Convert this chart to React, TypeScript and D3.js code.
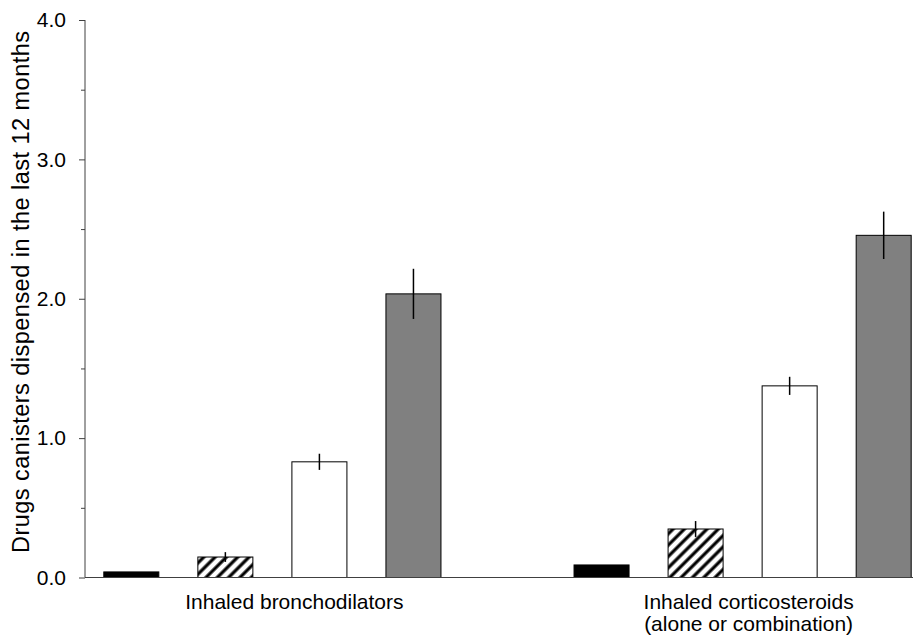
import React, { useEffect, useRef } from "react";
import * as d3 from "d3";

// categories on the x axis (second one is split on two lines)
const categories = [
  ["Inhaled bronchodilators"],
  ["Inhaled corticosteroids", "(alone or combination)"],
];
const series = ["black", "hatched", "white", "gray"];
// mean canisters per series, one value for each category
const meanValues = [
  [0.04, 0.147, 0.83, 2.035],
  [0.09, 0.348, 1.375, 2.455],
];
const errValues = [
  [0, 0.035, 0.058, 0.18],
  [0, 0.057, 0.065, 0.17],
];
const yTicks = [0, 1, 2, 3, 4];
const yMinorTicks = [0.5, 1.5, 2.5, 3.5];
const yTitle = "Drugs canisters dispensed in the last 12 months";

const W = 919;
const H = 636;
const FONT = "'Liberation Sans', Arial, Helvetica, sans-serif";

const App = () => {
  const ref = useRef<SVGSVGElement>(null);

  useEffect(() => {
    const svg = d3.select(ref.current);
    svg.selectAll("*").remove();

    const left = 85;
    const bottom = 577.5;
    const top = 20;

    // one slot per bar, with an empty slot between the two groups
    const slots: string[] = [];
    categories.forEach((c, ci) => {
      if (ci > 0) slots.push("gap" + ci);
      series.forEach((s) => slots.push(ci + "-" + s));
    });

    const x = d3.scaleBand().domain(slots).range([left, 930]).paddingInner(0.415).paddingOuter(0.2);
    const y = d3.scaleLinear().domain([0, 4]).range([bottom, top]);

    const defs = svg.append("defs");
    const pat = defs.append("pattern")
      .attr("id", "hatch")
      .attr("patternUnits", "userSpaceOnUse")
      .attr("width", 8)
      .attr("height", 8)
      .attr("patternTransform", "rotate(45)");
    pat.append("rect").attr("width", 8).attr("height", 8).attr("fill", "#fff");
    pat.append("line").attr("x1", 2).attr("y1", 0).attr("x2", 2).attr("y2", 8)
      .attr("stroke", "#000").attr("stroke-width", 3.2);

    const fills: Record<string, string> = {
      black: "#000",
      hatched: "url(#hatch)",
      white: "#fff",
      gray: "#808080",
    };

    const bars: { key: string; s: string; v: number; e: number }[] = [];
    categories.forEach((c, ci) => {
      series.forEach((s, si) => {
        bars.push({ key: ci + "-" + s, s, v: meanValues[ci][si], e: errValues[ci][si] });
      });
    });

    const g = svg.append("g");
    g.selectAll(".bar")
      .data(bars)
      .enter()
      .append("rect")
      .attr("class", "bar")
      .attr("x", (d) => x(d.key)!)
      .attr("width", x.bandwidth())
      .attr("y", (d) => y(d.v))
      .attr("height", (d) => bottom - y(d.v))
      .attr("fill", (d) => fills[d.s])
      .attr("stroke", "#000")
      .attr("stroke-width", 1);

    // error bars, no caps
    g.selectAll(".err")
      .data(bars.filter((d) => d.e > 0))
      .enter()
      .append("line")
      .attr("x1", (d) => x(d.key)! + x.bandwidth() / 2)
      .attr("x2", (d) => x(d.key)! + x.bandwidth() / 2)
      .attr("y1", (d) => y(d.v + d.e))
      .attr("y2", (d) => y(d.v - d.e))
      .attr("stroke", "#000")
      .attr("stroke-width", 1.5);

    // y axis
    const yAxis = svg.append("g")
      .attr("transform", "translate(" + left + ",0)")
      .call(d3.axisLeft(y).tickValues(yTicks).tickSize(6).tickPadding(13).tickFormat(d3.format(".1f")));
    yAxis.select(".domain").attr("stroke", "#404040").attr("d", "M0," + bottom + "V" + top);
    yAxis.selectAll(".tick line").attr("stroke", "#404040");
    yAxis.selectAll("text").attr("font-family", FONT).attr("font-size", 21).attr("fill", "#000");

    svg.append("g")
      .attr("transform", "translate(" + left + ",0)")
      .call(d3.axisLeft(y).tickValues(yMinorTicks).tickSize(4).tickFormat(() => ""))
      .call((a) => a.select(".domain").remove())
      .selectAll(".tick line").attr("stroke", "#404040");

    // x axis line
    svg.append("line")
      .attr("x1", left).attr("x2", 913)
      .attr("y1", bottom).attr("y2", bottom)
      .attr("stroke", "#404040").attr("stroke-width", 1);

    // category labels
    const labelShift = [22, 6];
    categories.forEach((lines, ci) => {
      const first = x(ci + "-" + series[0])!;
      const last = x(ci + "-" + series[series.length - 1])! + x.bandwidth();
      const cx = (first + last) / 2 + labelShift[ci];
      const t = svg.append("text")
        .attr("x", cx)
        .attr("y", 609)
        .attr("text-anchor", "middle")
        .attr("font-family", FONT)
        .attr("font-size", 21)
        .attr("fill", "#000");
      lines.forEach((ln, li) => {
        t.append("tspan").attr("x", cx).attr("dy", li === 0 ? 0 : 22).text(ln);
      });
    });

    // y title
    svg.append("text")
      .attr("transform", "translate(29,292) rotate(-90)")
      .attr("text-anchor", "middle")
      .attr("font-family", FONT)
      .attr("font-size", 23.5)
      .attr("textLength", 522)
      .attr("lengthAdjust", "spacing")
      .attr("fill", "#000")
      .text(yTitle);
  }, []);

  return (
    <svg
      ref={ref}
      width={W}
      height={H}
      style={{ position: "absolute", left: 0, top: 0, background: "#fff" }}
    />
  );
};

export default App;
